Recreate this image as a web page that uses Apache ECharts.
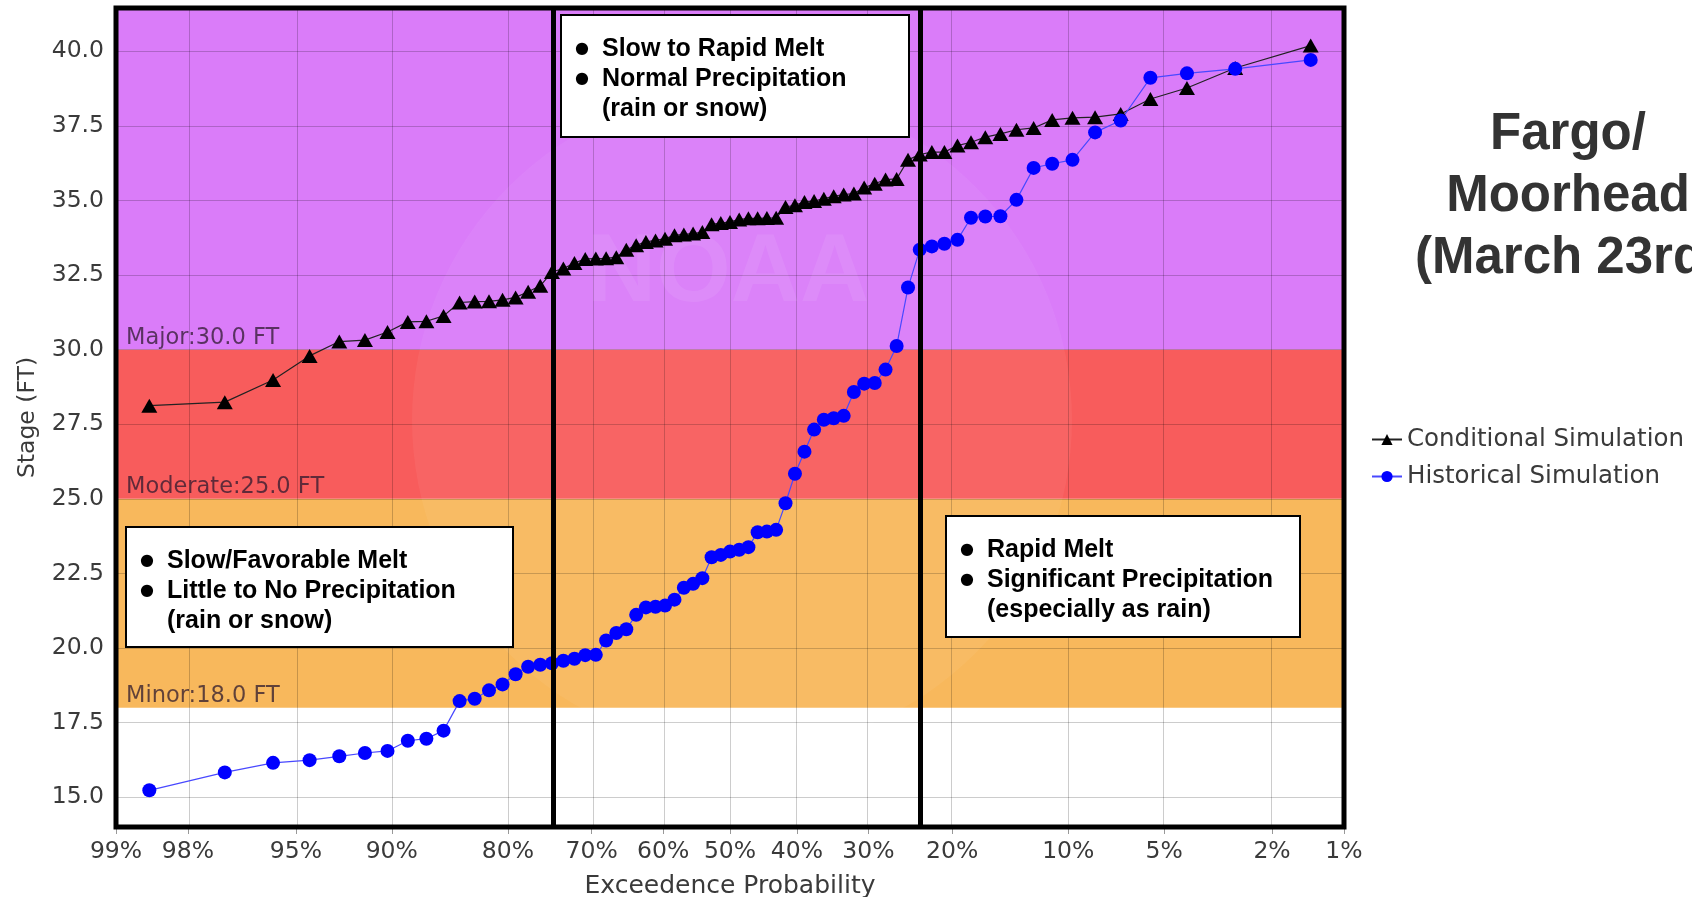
<!DOCTYPE html>
<html>
<head>
<meta charset="utf-8">
<script src="https://cdn.jsdelivr.net/npm/echarts@6/dist/echarts.min.js"></script>
<style>html, body { margin: 0; padding: 0; background: #fff; }</style>
</head>
<body>
<div id="chart1" style="width: 1692px; height: 897px"></div>

<script>
	// exceedance probability (%) of each ranked trace, lowest stage first
	var exceedance = [98.61, 97.22, 95.83, 94.44, 93.06, 91.67, 90.28, 88.89, 87.50, 86.11,
		84.72, 83.33, 81.94, 80.56, 79.17, 77.78, 76.39, 75.00, 73.61, 72.22,
		70.83, 69.44, 68.06, 66.67, 65.28, 63.89, 62.50, 61.11, 59.72, 58.33,
		56.94, 55.56, 54.17, 52.78, 51.39, 50.00, 48.61, 47.22, 45.83, 44.44,
		43.06, 41.67, 40.28, 38.89, 37.50, 36.11, 34.72, 33.33, 31.94, 30.56,
		29.17, 27.78, 26.39, 25.00, 23.61, 22.22, 20.83, 19.44, 18.06, 16.67,
		15.28, 13.89, 12.50, 11.11, 9.72, 8.33, 6.94, 5.56, 4.17, 2.78, 1.39];

	var conditional = [28.12, 28.24, 28.98, 29.79, 30.27, 30.32, 30.59, 30.93, 30.95, 31.13,
		31.58, 31.61, 31.62, 31.67, 31.75, 31.94, 32.14, 32.60, 32.72, 32.90,
		33.04, 33.05, 33.06, 33.10, 33.35, 33.50, 33.61, 33.66, 33.72, 33.83,
		33.86, 33.89, 33.94, 34.20, 34.24, 34.28, 34.36, 34.40, 34.40, 34.41,
		34.42, 34.78, 34.84, 34.95, 34.98, 35.06, 35.14, 35.20, 35.23, 35.43,
		35.56, 35.70, 35.72, 36.36, 36.54, 36.62, 36.62, 36.84, 36.95, 37.12,
		37.23, 37.37, 37.43, 37.70, 37.77, 37.79, 37.90, 38.40, 38.77, 39.44, 40.19];

	var historical = [15.23, 15.83, 16.15, 16.24, 16.37, 16.48, 16.55, 16.89, 16.96, 17.23,
		18.22, 18.30, 18.58, 18.78, 19.12, 19.37, 19.44, 19.49, 19.57, 19.64,
		19.76, 19.77, 20.25, 20.50, 20.63, 21.11, 21.36, 21.38, 21.42, 21.62,
		22.02, 22.15, 22.34, 23.04, 23.12, 23.23, 23.29, 23.38, 23.88, 23.90,
		23.96, 24.85, 25.84, 26.58, 27.32, 27.65, 27.70, 27.78, 28.58, 28.86,
		28.88, 29.33, 30.12, 32.08, 33.35, 33.46, 33.55, 33.68, 34.42, 34.46,
		34.47, 35.02, 36.09, 36.23, 36.36, 37.28, 37.68, 39.11, 39.26, 39.41, 39.71];

	var tickProbs = [99, 98, 95, 90, 80, 70, 60, 50, 40, 30, 20, 10, 5, 2, 1];
	var stageTicks = [15, 17.5, 20, 22.5, 25, 27.5, 30, 32.5, 35, 37.5, 40];
	var stageMin = 14.0, stageMax = 41.45;

	var floodNames = ['Minor:18.0 FT', 'Moderate:25.0 FT', 'Major:30.0 FT'];
	var floodFrom = [18, 25, 30];
	var floodTo = [25, 30, stageMax];
	var floodColors = ['#f8b85c', '#f85c5c', '#da7cf9'];

	var regimeLines = [75, 23.7];

	// inverse standard normal (Acklam) -> normal probability axis
	function probit(p) {
		var a = [-3.969683028665376e+01, 2.209460984245205e+02, -2.759285104469687e+02, 1.383577518672690e+02, -3.066479806614716e+01, 2.506628277459239e+00];
		var b = [-5.447609879822406e+01, 1.615858368580409e+02, -1.556989798598866e+02, 6.680131188771972e+01, -1.328068155288572e+01];
		var c = [-7.784894002430293e-03, -3.223964580411365e-01, -2.400758277161838e+00, -2.549732539343734e+00, 4.374664141464968e+00, 2.938163982698783e+00];
		var d = [7.784695709041462e-03, 3.224671290700398e-01, 2.445134137142996e+00, 3.754408661907416e+00];
		var pl = 0.02425, q, r;
		if (p < pl) {
			q = Math.sqrt(-2 * Math.log(p));
			return (((((c[0]*q+c[1])*q+c[2])*q+c[3])*q+c[4])*q+c[5]) / ((((d[0]*q+d[1])*q+d[2])*q+d[3])*q+1);
		}
		if (p > 1 - pl) {
			q = Math.sqrt(-2 * Math.log(1 - p));
			return -(((((c[0]*q+c[1])*q+c[2])*q+c[3])*q+c[4])*q+c[5]) / ((((d[0]*q+d[1])*q+d[2])*q+d[3])*q+1);
		}
		q = p - 0.5; r = q * q;
		return (((((a[0]*r+a[1])*r+a[2])*r+a[3])*r+a[4])*r+a[5])*q / (((((b[0]*r+b[1])*r+b[2])*r+b[3])*r+b[4])*r+1);
	}
	function probX(pct) { return probit(1 - pct / 100); }

	var xTicks = tickProbs.map(probX);
	function xLabel(v) {
		for (var i = 0; i < xTicks.length; i++) {
			if (Math.abs(xTicks[i] - v) < 1e-6) return tickProbs[i] + '%';
		}
		return '';
	}

	var G = { left: 116, top: 8, width: 1228, height: 819, outerBoundsMode: 'none' };
	var labelFont = { fontFamily: 'DejaVu Sans', fontSize: 23.5, color: '#3a3a3a' };
	var nameFont = { fontFamily: 'DejaVu Sans', fontSize: 25, color: '#3a3a3a' };

	function noteBox(x, y, w, h, lines) {
		return {
			type: 'group', z: 20,
			children: [
				{ type: 'rect', shape: { x: x, y: y, width: w, height: h }, style: { fill: '#fff', stroke: '#000', lineWidth: 2 }, z: 20 },
				{ type: 'text', z: 21, style: { x: x + 14, y: y + 19, text: '●\n●', font: '16px "DejaVu Sans"', fill: '#000', lineHeight: 30 } },
				{ type: 'text', z: 21, style: { x: x + 41, y: y + 19, text: lines.join('\n'), font: 'bold 25px "Liberation Sans"', fill: '#000', lineHeight: 30 } }
			]
		};
	}

	var chart1 = echarts.init(document.getElementById('chart1'));

	var chart1_option = {
		animation: false,
		backgroundColor: '#fff',
		grid: G,
		legend: {
			data: ['Conditional Simulation', 'Historical Simulation'],
			orient: 'vertical',
			left: 1366, top: 422,
			itemGap: 12, itemWidth: 30, itemHeight: 14,
			textStyle: { fontFamily: 'DejaVu Sans', fontSize: 24.5, color: '#3a3a3a' }
		},
		xAxis: {
			type: 'value',
			min: probX(99), max: probX(1),
			name: 'Exceedence Probability',
			nameLocation: 'middle', nameGap: 46.5,
			nameTextStyle: nameFont,
			axisLine: { show: false },
			axisTick: { show: true, customValues: xTicks, length: 7, lineStyle: { color: '#999' } },
			axisLabel: Object.assign({ customValues: xTicks, formatter: xLabel, margin: 12.5 }, labelFont),
			splitLine: { show: false }
		},
		yAxis: {
			type: 'value',
			min: stageMin, max: stageMax,
			name: 'Stage (FT)',
			nameLocation: 'middle', nameGap: 76, nameRotate: 90,
			nameTextStyle: labelFont,
			axisLine: { show: false },
			axisTick: { show: false, customValues: stageTicks },
			axisLabel: Object.assign({ customValues: stageTicks, formatter: function (v) { return v.toFixed(1); }, margin: 12 }, labelFont),
			splitLine: { show: false }
		},
		graphic: [
			// faint seal watermark
			{ type: 'circle', z: 1.6, silent: true, shape: { cx: 742, cy: 420, r: 330 }, style: { fill: 'rgba(255,255,255,0.05)' } },
			{ type: 'text', z: 1.7, silent: true, style: { x: 728, y: 275, text: 'NOAA', font: 'bold 96px "Liberation Sans"', fill: 'rgba(255,255,255,0.08)', textAlign: 'center', textVerticalAlign: 'middle' } },
			// plot frame
			{ type: 'rect', z: 15, silent: true, shape: { x: G.left, y: G.top, width: G.width, height: G.height }, style: { fill: 'none', stroke: '#000', lineWidth: 5 } },
			noteBox(126, 527, 387, 120, ['Slow/Favorable Melt', 'Little to No Precipitation', '(rain or snow)']),
			noteBox(561, 15, 348, 122, ['Slow to Rapid Melt', 'Normal Precipitation', '(rain or snow)']),
			noteBox(946, 516, 354, 121, ['Rapid Melt', 'Significant Precipitation', '(especially as rain)']),
			{ type: 'text', z: 20, style: { x: 1568, y: 104, text: 'Fargo/\nMoorhead\n(March 23rd)', font: 'bold 51px "Liberation Sans"', fill: '#333', textAlign: 'center', lineHeight: 62 } }
		],
		series: [
			{
				name: 'bands', type: 'line', data: [], silent: true,
				markArea: {
					silent: true, z: 1,
					label: { show: false },
					data: floodNames.map(function (n, i) {
						return [{ name: n, yAxis: floodFrom[i], itemStyle: { color: floodColors[i] } }, { yAxis: floodTo[i] }];
					})
				},
				markLine: {
					silent: true, z: 1.8, symbol: 'none',
					lineStyle: { color: 'rgba(0,0,0,0)', width: 0 },
					label: { show: true, position: 'insideStartTop', distance: [10, 0], formatter: '{b}', fontFamily: 'DejaVu Sans', fontSize: 22.5, color: 'rgba(45,25,45,0.75)' },
					data: floodNames.map(function (n, i) { return { name: n, yAxis: floodFrom[i] }; })
				}
			},
			{
				name: 'grid', type: 'line', data: [], silent: true,
				markLine: {
					silent: true, z: 1.5, symbol: 'none', label: { show: false },
					lineStyle: { color: 'rgba(0,0,0,0.2)', width: 1, type: 'solid' },
					data: xTicks.map(function (v) { return { xAxis: v }; })
						.concat(stageTicks.map(function (v) { return { yAxis: v }; }))
				}
			},
			{
				name: 'Conditional Simulation', type: 'line', z: 3,
				data: exceedance.map(function (p, i) { return [probX(p), conditional[i]]; }),
				symbol: 'triangle', symbolSize: [16, 14],
				itemStyle: { color: '#000' },
				lineStyle: { color: '#222', width: 1.2 }
			},
			{
				name: 'Historical Simulation', type: 'line', z: 3,
				data: exceedance.map(function (p, i) { return [probX(p), historical[i]]; }),
				symbol: 'circle', symbolSize: 14,
				itemStyle: { color: '#0000ff' },
				lineStyle: { color: '#4848ff', width: 1.2 }
			},
			{
				name: 'regimes', type: 'line', data: [], silent: true,
				markLine: {
					silent: true, z: 8, symbol: 'none', label: { show: false },
					lineStyle: { color: '#000', width: 5, type: 'solid' },
					data: regimeLines.map(function (p) { return { xAxis: probX(p) }; })
				}
			}
		]
	};

	chart1.setOption(chart1_option);
</script>
</body>
</html>
